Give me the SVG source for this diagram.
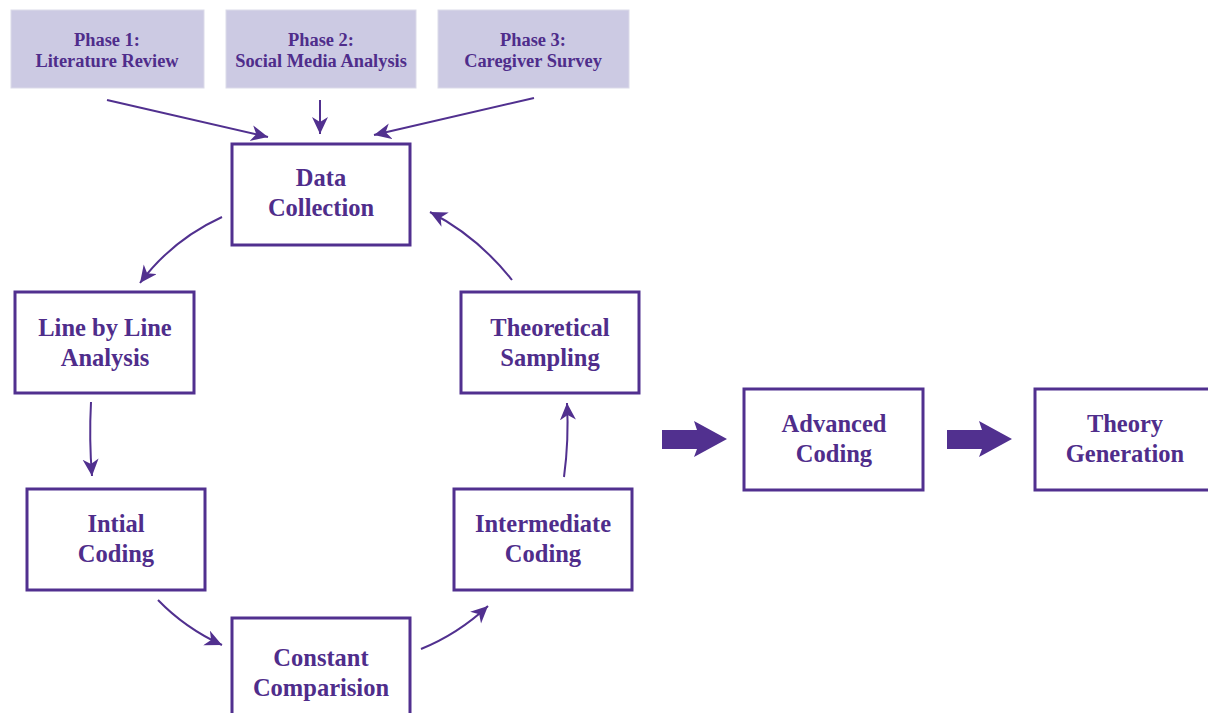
<svg xmlns="http://www.w3.org/2000/svg" width="1208" height="713" viewBox="0 0 1208 713">
<style>
.phase rect{fill:#cccae3;stroke:#dcdbe9;stroke-width:1}
.node rect{fill:#fff;stroke:#51308f;stroke-width:3}
text{font-family:'Liberation Serif','Times New Roman',serif;font-weight:700;fill:#4f2d8b;text-anchor:middle}
.pt{font-size:18.4px}
.nt{font-size:24.5px}
.con path{fill:none;stroke:#51308f;stroke-width:2}
.con path.blk{fill:#51308f;stroke:none}
</style>
<defs>
<marker id="ah" markerUnits="userSpaceOnUse" markerWidth="20" markerHeight="18" refX="17" refY="8" orient="auto" viewBox="0 0 20 18">
<path d="M0,0 L17,8 L0,16 L5,8 z" fill="#51308f"/>
</marker>
</defs>
<rect width="1208" height="713" fill="#fff"/>
<g id="phase1" class="phase"><rect x="11" y="10" width="193" height="78"/><text class="pt" x="107" y="46">Phase 1:</text><text class="pt" x="107" y="67">Literature Review</text></g>
<g id="phase2" class="phase"><rect x="226" y="10" width="190" height="78"/><text class="pt" x="321" y="46">Phase 2:</text><text class="pt" x="321" y="67">Social Media Analysis</text></g>
<g id="phase3" class="phase"><rect x="438" y="10" width="191" height="78"/><text class="pt" x="533" y="46">Phase 3:</text><text class="pt" x="533" y="67">Caregiver Survey</text></g>
<g id="data-collection" class="node"><rect x="232" y="144" width="178" height="101"/><text class="nt" x="321" y="186">Data</text><text class="nt" x="321" y="216">Collection</text></g>
<g id="line-by-line" class="node"><rect x="15" y="292" width="179" height="101"/><text class="nt" x="105" y="336">Line by Line</text><text class="nt" x="105" y="366">Analysis</text></g>
<g id="theoretical-sampling" class="node"><rect x="461" y="292" width="178" height="101"/><text class="nt" x="550" y="336">Theoretical</text><text class="nt" x="550" y="366">Sampling</text></g>
<g id="initial-coding" class="node"><rect x="27" y="489" width="178" height="101"/><text class="nt" x="116" y="532">Intial</text><text class="nt" x="116" y="562">Coding</text></g>
<g id="intermediate-coding" class="node"><rect x="454" y="489" width="178" height="101"/><text class="nt" x="543" y="532">Intermediate</text><text class="nt" x="543" y="562">Coding</text></g>
<g id="constant-comparision" class="node"><rect x="232" y="618" width="178" height="110"/><text class="nt" x="321" y="666">Constant</text><text class="nt" x="321" y="696">Comparision</text></g>
<g id="advanced-coding" class="node"><rect x="744" y="389" width="179" height="101"/><text class="nt" x="834" y="432">Advanced</text><text class="nt" x="834" y="462">Coding</text></g>
<g id="theory-generation" class="node"><rect x="1035" y="389" width="180" height="101"/><text class="nt" x="1125" y="432">Theory</text><text class="nt" x="1125" y="462">Generation</text></g>
<g id="connectors" class="con">
<path d="M107,100 L268,137" marker-end="url(#ah)"/>
<path d="M320,100 L320,134" marker-end="url(#ah)"/>
<path d="M534,98 L374,135" marker-end="url(#ah)"/>
<path d="M222,217 Q172,240 140,283" marker-end="url(#ah)"/>
<path d="M91,402 Q89,440 92,476" marker-end="url(#ah)"/>
<path d="M158,600 Q185,628 222,645" marker-end="url(#ah)"/>
<path d="M421,649 Q458,634 488,606" marker-end="url(#ah)"/>
<path d="M564,477 Q569,440 567,403" marker-end="url(#ah)"/>
<path d="M512,280 Q477,236 430,212" marker-end="url(#ah)"/>
<path class="blk" d="M662,430 L697,430 L694,421 L727,439 L694,457 L697,449 L662,449 z"/>
<path class="blk" d="M947,430 L982,430 L979,421 L1012,439 L979,457 L982,449 L947,449 z"/>
</g>
</svg>
